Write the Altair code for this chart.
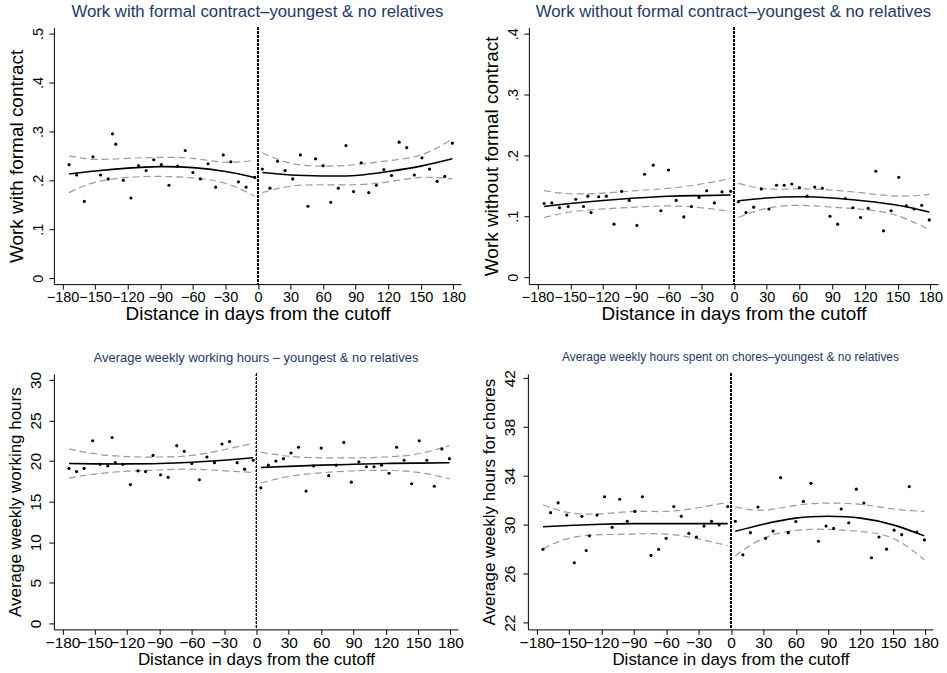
import altair as alt
import pandas as pd

# ---- bin positions (days from the cutoff) -------------------------------
LEFT_DAYS = [-174, -167, -160, -152, -145, -138, -134, -131, -124, -117, -110, -103, -96,
             -89, -82, -74, -67, -60, -53, -46, -39, -32, -25, -18, -11, -3]
RIGHT_DAYS = [4, 11, 18, 25, 32, 39, 46, 53, 60, 67, 74, 81, 88, 95, 102, 109, 116, 123,
              130, 137, 144, 151, 158, 165, 172, 179]

# days where the fitted curve and its confidence band are read
FIT_DAYS_L = [-174, -150, -120, -90, -60, -30, -3]
FIT_DAYS_R = [4, 30, 60, 90, 120, 150, 179]

X_TICKS = [-180, -150, -120, -90, -60, -30, 0, 30, 60, 90, 120, 150, 180]

# ---- Work with formal contract ------------------------------------------
formal_left = [0.232, 0.211, 0.157, 0.248, 0.211, 0.203, 0.295, 0.274, 0.200, 0.164, 0.230,
               0.220, 0.242, 0.232, 0.190, 0.229, 0.261, 0.216, 0.203, 0.234, 0.186, 0.252,
               0.238, 0.197, 0.186, 0.206]
formal_right = [0.223, 0.184, 0.239, 0.220, 0.203, 0.252, 0.147, 0.244, 0.230, 0.155, 0.184,
                0.271, 0.177, 0.236, 0.175, 0.190, 0.222, 0.210, 0.278, 0.267, 0.211, 0.246,
                0.223, 0.198, 0.208, 0.276]
formal_fit_l = [0.213, 0.219, 0.225, 0.228, 0.226, 0.218, 0.206]
formal_up_l = [0.250, 0.243, 0.245, 0.247, 0.245, 0.237, 0.241]
formal_lo_l = [0.175, 0.196, 0.206, 0.208, 0.205, 0.194, 0.168]
formal_fit_r = [0.216, 0.211, 0.209, 0.210, 0.218, 0.229, 0.244]
formal_up_r = [0.256, 0.235, 0.229, 0.232, 0.240, 0.252, 0.284]
formal_lo_r = [0.175, 0.188, 0.191, 0.191, 0.197, 0.206, 0.203]

# ---- Work without formal contract ---------------------------------------
informal_left = [0.121, 0.122, 0.114, 0.116, 0.128, 0.116, 0.133, 0.106, 0.132, 0.133, 0.087,
                 0.141, 0.126, 0.085, 0.169, 0.184, 0.109, 0.176, 0.126, 0.099, 0.116, 0.131,
                 0.142, 0.122, 0.140, 0.141]
informal_right = [0.124, 0.106, 0.115, 0.145, 0.112, 0.151, 0.151, 0.153, 0.147, 0.133, 0.148,
                  0.146, 0.100, 0.087, 0.129, 0.114, 0.098, 0.113, 0.174, 0.076, 0.109, 0.164,
                  0.117, 0.112, 0.118, 0.094]
informal_fit_l = [0.116, 0.121, 0.126, 0.130, 0.133, 0.134, 0.135]
informal_up_l = [0.142, 0.137, 0.138, 0.142, 0.146, 0.153, 0.162]
informal_lo_l = [0.098, 0.107, 0.112, 0.115, 0.117, 0.114, 0.108]
informal_fit_r = [0.1255, 0.130, 0.132, 0.130, 0.125, 0.118, 0.107]
informal_up_r = [0.154, 0.145, 0.145, 0.143, 0.138, 0.133, 0.136]
informal_lo_r = [0.098, 0.113, 0.118, 0.115, 0.111, 0.101, 0.078]

# ---- Average weekly working hours ---------------------------------------
hours_left = [19.1, 18.7, 19.1, 22.5, 19.6, 19.4, 22.9, 19.8, 19.6, 17.1, 18.8, 18.7, 20.7,
              18.3, 18.0, 21.9, 21.2, 19.7, 17.7, 20.5, 19.8, 22.1, 22.4, 19.8, 19.0, 20.1]
hours_right = [16.7, 19.5, 20.0, 20.3, 21.0, 21.7, 16.3, 19.4, 21.6, 18.2, 19.5, 22.3, 17.4,
               19.9, 19.3, 19.3, 19.5, 18.5, 21.7, 20.1, 17.2, 22.5, 20.1, 16.9, 21.5, 20.3]
hours_fit_l = [19.7, 19.65, 19.65, 19.7, 19.85, 20.1, 20.4]
hours_up_l = [21.5, 20.9, 20.55, 20.5, 20.7, 21.4, 22.2]
hours_lo_l = [17.9, 18.4, 18.75, 18.9, 19.0, 18.8, 18.6]
hours_fit_r = [19.2, 19.35, 19.5, 19.6, 19.7, 19.75, 19.8]
hours_up_r = [21.1, 20.6, 20.4, 20.4, 20.5, 20.9, 21.9]
hours_lo_r = [17.3, 18.1, 18.55, 18.8, 18.85, 18.6, 17.8]

# ---- Average weekly hours for chores ------------------------------------
chores_left = [28.0, 31.0, 31.8, 30.8, 26.9, 30.7, 27.9, 29.1, 30.8, 32.3, 29.8, 32.1, 30.3,
               31.1, 32.3, 27.5, 28.0, 28.9, 31.5, 30.7, 29.3, 29.0, 29.9, 30.3, 30.0, 31.5]
chores_right = [30.3, 27.55, 29.36, 31.46, 28.9, 29.49, 33.86, 29.36, 30.27, 31.92, 33.4, 28.66,
                29.9, 29.71, 31.3, 30.17, 32.92, 31.78, 27.31, 29.01, 28.01, 29.57, 29.2, 33.13,
                29.41, 28.77]
chores_fit_l = [29.85, 29.95, 30.05, 30.1, 30.1, 30.1, 30.1]
chores_up_l = [31.65, 31.0, 30.9, 31.1, 31.1, 31.4, 31.85]
chores_lo_l = [28.05, 28.9, 29.2, 29.25, 29.25, 28.85, 28.3]
chores_fit_r = [29.47, 30.05, 30.55, 30.7, 30.55, 30.0, 29.1]
chores_up_r = [31.46, 31.2, 31.6, 31.78, 31.68, 31.3, 31.1]
chores_lo_r = [27.47, 28.9, 29.55, 29.63, 29.45, 28.9, 27.15]

FONT = "Liberation Sans"
TITLE_COLOR = "#24386a"


def panel(title, title_size, ytitle, left, right, fit_l, up_l, lo_l, fit_r, up_r, lo_r,
          ydomain, yticks, ylabel_expr, width, height, label_size, axis_title_size,
          y_label_pad, y_title_pad):
    points = pd.DataFrame({"day": LEFT_DAYS + RIGHT_DAYS, "value": left + right})

    rows = []
    for side, days, fit, up, lo in (("L", FIT_DAYS_L, fit_l, up_l, lo_l),
                                    ("R", FIT_DAYS_R, fit_r, up_r, lo_r)):
        for kind, vals in (("fit", fit), ("upper", up), ("lower", lo)):
            for d, v in zip(days, vals):
                rows.append({"day": d, "value": v, "side": side, "kind": kind,
                             "curve": side + kind})
    curves = pd.DataFrame(rows)

    x_axis = alt.Axis(values=X_TICKS, title="Distance in days from the cutoff",
                      grid=False, labelFlush=False, labelOverlap=False,
                      tickSize=5, labelPadding=1, titlePadding=1,
                      labelFontSize=label_size, titleFontSize=axis_title_size,
                      labelFont=FONT, titleFont=FONT, titleFontWeight="normal",
                      labelColor="black", titleColor="black",
                      domainColor="black", tickColor="black")
    x_scale = alt.Scale(domain=[-188, 187], nice=False, zero=False)
    x = alt.X("day:Q", scale=x_scale, axis=x_axis)

    y_axis_kw = dict(values=yticks, title=ytitle, grid=False, labelAngle=270,
                     labelAlign="center", labelBaseline="bottom", tickSize=5,
                     labelPadding=y_label_pad, titlePadding=y_title_pad,
                     labelOverlap=False, labelFlush=False,
                     labelFontSize=label_size, titleFontSize=axis_title_size,
                     labelFont=FONT, titleFont=FONT, titleFontWeight="normal",
                     labelColor="black", titleColor="black",
                     domainColor="black", tickColor="black")
    if ylabel_expr:
        y_axis_kw["labelExpr"] = ylabel_expr
    y = alt.Y("value:Q", scale=alt.Scale(domain=ydomain, nice=False, zero=False),
              axis=alt.Axis(**y_axis_kw))

    dots = alt.Chart(points).mark_circle(size=10, color="black", opacity=1).encode(x=x, y=y)

    band = alt.Chart(curves).transform_filter(alt.datum.kind != "fit").mark_line(
        color="#9a9a9a", strokeWidth=1.2, strokeDash=[7, 4], interpolate="natural"
    ).encode(x=x, y=y, detail="curve:N")

    fit = alt.Chart(curves).transform_filter(alt.datum.kind == "fit").mark_line(
        color="black", strokeWidth=1.6, interpolate="natural"
    ).encode(x=x, y=y, detail="curve:N")

    cutoff = alt.Chart(points).mark_rule(color="black", strokeWidth=0.9,
                                         strokeDash=[2, 2]).encode(
        x=alt.X(datum=0, scale=x_scale, axis=x_axis))

    return alt.layer(cutoff, band, fit, dots).properties(
        width=width, height=height,
        title=alt.TitleParams(title, fontSize=title_size, color=TITLE_COLOR, font=FONT,
                              fontWeight="normal", anchor="middle", frame="group",
                              offset=6),
    )


frac_expr = "datum.value == 0 ? '0' : '.' + round(datum.value * 10)"

p1 = panel("Work with formal contract\u2013youngest & no relatives", 16.8,
           "Work with formal contract", formal_left, formal_right,
           formal_fit_l, formal_up_l, formal_lo_l, formal_fit_r, formal_up_r, formal_lo_r,
           [-0.012, 0.512], [0, 0.1, 0.2, 0.3, 0.4, 0.5], frac_expr, 408, 257, 14.5, 19,
           3, 4)

p2 = panel("Work without formal contract\u2013youngest & no relatives", 16.8,
           "Work without formal contract", informal_left, informal_right,
           informal_fit_l, informal_up_l, informal_lo_l,
           informal_fit_r, informal_up_r, informal_lo_r,
           [-0.0115, 0.41], [0, 0.1, 0.2, 0.3, 0.4], frac_expr, 410, 257, 14.5, 19,
           3, 4)

p3 = panel("Average weekly working hours \u2013 youngest & no relatives", 13,
           "Average weekly working hours", hours_left, hours_right,
           hours_fit_l, hours_up_l, hours_lo_l, hours_fit_r, hours_up_r, hours_lo_r,
           [-0.74, 30.74], [0, 5, 10, 15, 20, 25, 30], None, 405, 256, 15.5, 17,
           5, 4)

p4 = panel("Average weekly hours spent on chores\u2013youngest & no relatives", 12,
           "Average weekly hours for chores", chores_left, chores_right,
           chores_fit_l, chores_up_l, chores_lo_l, chores_fit_r, chores_up_r, chores_lo_r,
           [21.45, 42.35], [22, 26, 30, 34, 38, 42], None, 406, 256, 15.5, 17,
           5, 4)

chart = alt.vconcat(
    alt.hconcat(p1, p2, spacing=16),
    alt.hconcat(p3, p4, spacing=16),
    spacing=26,
).properties(
    padding={"left": 6, "top": 3, "right": 4, "bottom": 2},
    background="white",
).configure_view(stroke=None).configure_axis(labelOverlap=False, labelFlush=False)

chart.save("out.html", embed_options={"renderer": "svg", "actions": False})
